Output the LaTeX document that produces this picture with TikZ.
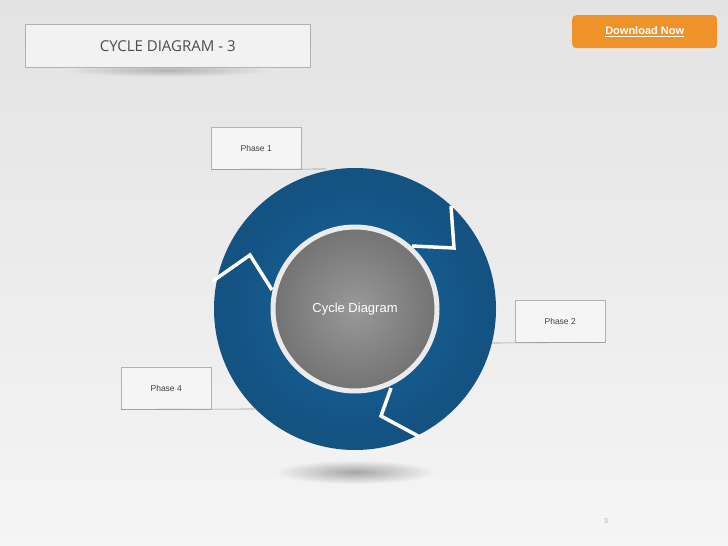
\documentclass[tikz,border=0pt]{standalone}
\usepackage{fontspec}
\setmainfont{Liberation Sans}
\newfontfamily\titlefont{Open Sans}
\definecolor{ringblue}{RGB}{24,104,160}
\definecolor{ringdark}{RGB}{20,82,130}
\definecolor{btnorange}{RGB}{240,146,42}
\tikzset{
  phasebox/.style={draw=black!30,fill=white!96!black,minimum width=90pt,minimum height=42pt,inner sep=0pt,font=\fontsize{8.5}{10}\selectfont,text=black!75},
  leader/.style={draw=black!40,line width=0.6pt},
  sep/.style={draw=white,line width=3.5pt,line join=miter},
}
\begin{document}
\begin{tikzpicture}[x=1pt,y=-1pt]
\shade[top color=black!11,bottom color=black!4] (0,0) rectangle (728,546);
\useasboundingbox (0,0) rectangle (728,546);
% title shadow
\shade[inner color=black!30,outer color=black!9] (167,70) ellipse (110 and 7);
\node[draw=black!30,fill=white!95!black,minimum width=285pt,minimum height=43pt,inner sep=0pt,anchor=north west,font=\titlefont\fontsize{15}{17}\selectfont,text=black!70] (title) at (25,24) {CYCLE DIAGRAM - 3};
% download button
\node[fill=btnorange,rounded corners=4pt,minimum width=145pt,minimum height=33pt,anchor=north west,inner sep=0pt,font=\bfseries\fontsize{11}{13}\selectfont,text=white] (dl) at (572,15) {\underline{Download Now}};
% shadow under circle
\shade[inner color=black!35,outer color=black!5] (355,472) ellipse (80 and 12);
% ring
\coordinate (c) at (355,309);
\fill[ringdark] (c) circle (141);
\shade[inner color=ringblue,outer color=ringdark] (c) circle (128);
\draw[sep] (451,206) -- (454,248) -- (412,246);
\draw[sep] (213,281) -- (250,255) -- (272,290);
\draw[sep] (420,437) -- (381,416) -- (391,388);
% center
\shade[inner color=black!40,outer color=black!55] (c) circle (82);
\draw[white!92!black,line width=5pt] (c) circle (82);
\node[font=\fontsize{13}{15}\selectfont,text=white] (center) at (c) {Cycle Diagram};
% phases
\node[phasebox,anchor=north west] (p1) at (211,127) {Phase 1};
\draw[leader] (p1.south west) -- (326,169);
\node[phasebox,anchor=north west] (p2) at (515,300) {Phase 2};
\draw[leader] (p2.south east) -- (492,343);
\node[phasebox,anchor=north west] (p4) at (121,367) {Phase 4};
\draw[leader] (p4.south west) -- (256,409);
\node[font=\fontsize{7}{8}\selectfont,text=black!30] (pg) at (606,521) {3};
\end{tikzpicture}
\end{document}
